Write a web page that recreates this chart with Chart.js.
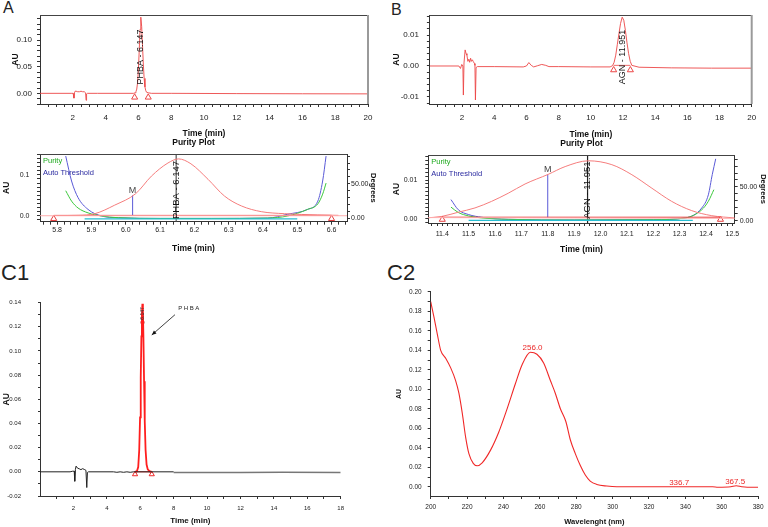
<!DOCTYPE html>
<html>
<head>
<meta charset="utf-8">
<script src="https://cdn.jsdelivr.net/npm/chart.js@4.4.1/dist/chart.umd.min.js"></script>
<style>
body { margin:0; background:#fff; width:768px; height:527px; overflow:hidden; position:relative; }
canvas { position:absolute; }
.panel { position:absolute; line-height:1; color:#222; font-family:'Liberation Sans', Arial, sans-serif; }
</style>
</head>
<body>
<div class="panel" style="left:3px;top:0px;font-size:16px">A</div>
<div class="panel" style="left:391px;top:2px;font-size:16px">B</div>
<div class="panel" style="left:1px;top:262px;font-size:22px">C1</div>
<div class="panel" style="left:387px;top:262px;font-size:22px">C2</div>

<canvas id="chromA" width="384" height="140" style="left:0;top:0"></canvas>
<canvas id="chromB" width="384" height="140" style="left:384px;top:0"></canvas>
<canvas id="purityA" width="384" height="120" style="left:0;top:138px"></canvas>
<canvas id="purityB" width="384" height="120" style="left:384px;top:138px"></canvas>
<canvas id="chromC1" width="384" height="245" style="left:0;top:282px"></canvas>
<canvas id="specC2" width="384" height="245" style="left:384px;top:282px"></canvas>

<script>
// ---- A : PHBA chromatogram ----
let chromA_time = [0, 1.9, 2.02, 2.07, 2.1, 2.14, 2.2, 2.3, 2.4, 2.5, 2.6, 2.7, 2.78, 2.81, 2.84, 2.9, 3.5, 5.0, 5.7, 5.8, 5.85, 5.9, 5.95, 6.0, 6.05, 6.1, 6.147, 6.2, 6.25, 6.3, 6.35, 6.4, 6.45, 6.5, 6.6, 6.8, 8, 12, 16, 20];
let chromA_au = [0, 0, 0, -0.009, 0.001, 0.004, 0.004, 0.003, 0.003, 0.004, 0.003, 0.003, 0.001, -0.013, -0.001, 0, 0, 0, 0, 0.001, 0.003, 0.008, 0.02, 0.045, 0.08, 0.12, 0.143, 0.125, 0.09, 0.055, 0.028, 0.012, 0.005, 0.002, 0.001, 0, 0, -0.0005, -0.0008, -0.001];
let chromA_markTime = [5.77, 6.6];
let chromA_markAu = [-0.0075, -0.0075];

// ---- B : AGN chromatogram ----
let chromB_time = [0, 1.8, 1.9, 1.98, 2.05, 2.08, 2.12, 2.19, 2.25, 2.3, 2.36, 2.42, 2.47, 2.53, 2.58, 2.64, 2.7, 2.77, 2.8, 2.83, 2.87, 2.95, 4, 5.8, 6.0, 6.15, 6.3, 6.45, 6.7, 6.95, 7.2, 7.4, 8, 10, 11.2, 11.35, 11.45, 11.55, 11.65, 11.75, 11.85, 11.951, 12.05, 12.15, 12.25, 12.35, 12.45, 12.55, 13, 15, 17.5, 20];
let chromB_au = [0, 0, -0.0008, 0.0005, 0.0, -0.0094, 0.001, 0.0052, 0.004, 0.0035, 0.0015, 0.0022, 0.0012, 0.0025, 0.0015, 0.002, 0.0014, 0.0008, 0.0002, -0.011, -0.0005, -0.0002, -0.0002, -0.0003, 0.0, 0.0011, 0.0002, -0.0003, 0.0001, 0.0005, 0.0002, -0.0002, -0.0002, -0.0003, -0.0003, 0.0001, 0.0012, 0.0035, 0.007, 0.0105, 0.0138, 0.0158, 0.0148, 0.0115, 0.0075, 0.004, 0.0015, 0.0002, -0.0004, -0.0006, -0.0007, -0.0007];
let chromB_markTime = [11.42, 12.46];
let chromB_markAu = [-0.0013, -0.0013];

// ---- A : purity plot ----
let purA_time = [5.8, 5.861, 5.91, 5.968, 6.029, 6.075, 6.123, 6.154, 6.19, 6.24, 6.288, 6.337, 6.395, 6.463, 6.56, 6.62];
let purA_au = [0.0005, 0.001, 0.005, 0.026, 0.054, 0.097, 0.129, 0.139, 0.127, 0.089, 0.048, 0.024, 0.01, 0.005, 0.002, 0.001];
let purA_curveTime = [5.825, 5.842, 5.861, 5.89, 5.929, 5.978, 6.1, 6.25, 6.414, 6.472, 6.53, 6.56, 6.574, 6.584];
let purA_threshold = [90, 54, 30, 13, 3.5, 1, 0, 0, 0.5, 6, 13, 25, 54, 90];
let purA_angle = [40, 25, 15, 8, 3.5, 1, 0, 0, 0.5, 3.5, 13, 21, 35, 51];
let purA_markTime = [5.79, 6.6];
let purA_markAu = [-0.0073, -0.0073];

// ---- B : purity plot ----
let purB_time = [11.333, 11.398, 11.461, 11.524, 11.587, 11.65, 11.714, 11.802, 11.866, 11.954, 12.043, 12.119, 12.195, 12.27, 12.346, 12.422, 12.509];
let purB_au = [0.0002, 0.0006, 0.0017, 0.0028, 0.0045, 0.0066, 0.009, 0.0115, 0.0135, 0.015, 0.014, 0.0114, 0.0079, 0.0045, 0.0021, 0.0008, 0.0002];
let purB_threshTime = [11.433, 11.461, 11.5, 11.55, 11.65, 11.9, 12.2, 12.321, 12.384, 12.409, 12.424, 12.437];
let purB_threshold = [31, 16, 9, 5, 2, 1, 1.5, 4, 18.7, 38, 68, 91];
let purB_angleTime = [11.433, 11.461, 11.5, 11.55, 11.65, 11.9, 12.2, 12.321, 12.384, 12.409, 12.43];
let purB_angle = [20, 12, 7, 4, 2, 1, 1.5, 4, 16, 28.5, 45.6];
let purB_markTime = [11.4, 12.455];
let purB_markAu = [-0.0002, -0.0002];

// ---- C1 : PHBA chromatogram ----
let c1_time = [0, 1.8, 1.95, 2.05, 2.08, 2.12, 2.16, 2.25, 2.35, 2.45, 2.55, 2.65, 2.75, 2.8, 2.84, 2.9, 4.4, 4.6, 4.8, 5.0, 5.2, 5.4, 5.6, 8];
let c1_au = [0, 0, 0.0005, 0.0005, -0.0078, 0.002, 0.0047, 0.003, 0.0025, 0.0018, 0.0026, 0.002, 0.0012, -0.013, -0.0005, 0, 0, -0.0004, 0, -0.0004, 0, -0.0004, 0, 0];
let c1_tailTime = [8, 12, 14.5, 18];
let c1_tailAu = [-0.0005, -0.0005, -0.0004, -0.0005];
let c1_peakTime = [5.69, 5.8, 5.88, 5.94, 5.99, 6.03, 6.07, 6.1, 6.13, 6.16, 6.19, 6.23, 6.27, 6.32, 6.38, 6.45, 6.55, 6.69];
let c1_peakAu = [0, 0.0005, 0.004, 0.018, 0.045, 0.078, 0.112, 0.13, 0.139, 0.133, 0.112, 0.075, 0.042, 0.018, 0.006, 0.002, 0.0005, 0];
let c1_markTime = [5.69, 6.69];
let c1_markAu = [-0.002, -0.002];

// ---- C2 : UV spectrum ----
let c2_wave = [200, 201.8, 203.6, 205.5, 208.2, 211, 213.7, 215.5, 217.4, 219.2, 221, 223.4, 225.5, 228.3, 232.9, 237.4, 242, 246.6, 250.2, 254.8, 258.4, 262.1, 265.8, 268.5, 271.3, 274.3, 276.8, 279.5, 282.2, 285, 287.7, 291.3, 296.8, 302.3, 320, 340, 355, 358, 365, 368, 371, 374, 380];
let c2_au = [0.19, 0.174, 0.157, 0.140, 0.132, 0.122, 0.109, 0.096, 0.075, 0.051, 0.034, 0.024, 0.0215, 0.0246, 0.0376, 0.056, 0.080, 0.106, 0.125, 0.138, 0.136, 0.127, 0.109, 0.096, 0.080, 0.067, 0.048, 0.034, 0.022, 0.012, 0.0058, 0.0024, 0.0007, 0.0, 0.0, 0.0, 0.0, -0.0005, 0.0, 0.001, 0.0, -0.0005, -0.0005];

const FONT = 'Liberation Sans';
const TRACE = 'rgb(236,70,70)';
Chart.defaults.font.family = FONT;

const pts = (xs, ys) => xs.map((x, i) => ({x: x, y: ys[i]}));
function steps(from, to, step) {
    let out = [];
    for (let i = 0; from + i * step <= to + 1e-9; i++) out.push(+(from + i * step).toFixed(5));
    return out;
}
const onStep = (v, major) => Math.abs(v / major - Math.round(v / major)) < 1e-6;

function axis(o) {
    return {
        type: 'linear', position: o.pos, min: o.min, max: o.max,
        afterBuildTicks: s => { s.ticks = steps(o.from, o.to, o.minor).map(v => ({value: v})); },
        afterFit: s => { if (o.pos === 'left' || o.pos === 'right') s.width = o.size; else s.height = o.size; },
        grid: {drawOnChartArea: false, drawTicks: true, tickLength: o.tick || 3, color: '#333'},
        border: {display: true, color: '#333', width: 1},
        ticks: {
            autoSkip: false, maxRotation: 0, padding: o.pad, color: '#222',
            font: {family: FONT, size: o.fs || 8},
            callback: v => onStep(v, o.major) ? o.fmt(v) : ''
        },
        title: {display: !!o.title, text: o.title, color: '#111', font: {family: FONT, size: o.tfs || 8.5, weight: 'bold'}, padding: o.tpad || 0}
    };
}

// draws frame, headings, key text, arrows and peak labels
const extras = {
    id: 'extras',
    afterDatasetsDraw(chart, args, o) {
        const ctx = chart.ctx, a = chart.chartArea, sx = chart.scales.x;
        ctx.save();
        if (o.frame) {
            ctx.strokeStyle = '#444'; ctx.lineWidth = 1;
            ctx.beginPath(); ctx.moveTo(a.left, a.top + 0.5); ctx.lineTo(a.right, a.top + 0.5); ctx.stroke();
            if (o.frame === 'full') {
                ctx.strokeStyle = '#9a9a9a'; ctx.lineWidth = 2;
                ctx.beginPath(); ctx.moveTo(a.right, a.top); ctx.lineTo(a.right, a.bottom); ctx.stroke();
            }
        }
        if (o.heading) {
            ctx.font = 'bold 8.5px ' + FONT; ctx.fillStyle = '#111';
            ctx.textAlign = 'center'; ctx.textBaseline = 'middle';
            ctx.fillText(o.heading, (a.left + a.right) / 2, a.top - 11);
        }
        (o.keys || []).forEach((k, i) => {
            ctx.font = '7.5px ' + FONT; ctx.fillStyle = k.color;
            ctx.textAlign = 'left'; ctx.textBaseline = 'middle';
            ctx.fillText(k.text, a.left + 3, a.top + 7 + i * 11.5);
        });
        (o.arrows || []).forEach(ar => {
            const x1 = sx.getPixelForValue(ar.x1), y1 = chart.scales.y.getPixelForValue(ar.y1);
            const x2 = sx.getPixelForValue(ar.x2), y2 = chart.scales.y.getPixelForValue(ar.y2);
            const ang = Math.atan2(y2 - y1, x2 - x1);
            ctx.strokeStyle = '#111'; ctx.fillStyle = '#111'; ctx.lineWidth = 0.8;
            ctx.beginPath(); ctx.moveTo(x1, y1); ctx.lineTo(x2, y2); ctx.stroke();
            ctx.beginPath(); ctx.moveTo(x2, y2);
            ctx.lineTo(x2 - 5 * Math.cos(ang - 0.4), y2 - 5 * Math.sin(ang - 0.4));
            ctx.lineTo(x2 - 5 * Math.cos(ang + 0.4), y2 - 5 * Math.sin(ang + 0.4));
            ctx.closePath(); ctx.fill();
        });
        (o.notes || []).forEach(n => {
            const x = sx.getPixelForValue(n.x), y = chart.scales[n.axis || 'y'].getPixelForValue(n.y);
            ctx.save();
            ctx.translate(x, y); ctx.rotate(n.rot || 0);
            ctx.font = n.font; ctx.fillStyle = n.color || '#111';
            ctx.textAlign = 'center'; ctx.textBaseline = 'middle';
            if (n.spacing) ctx.letterSpacing = n.spacing;
            ctx.fillText(n.text, 0, 0);
            ctx.restore();
        });
        ctx.restore();
    }
};
Chart.register(extras);

const base = (padding, extra) => ({
    responsive: false, animation: false, events: [],
    layout: {padding: padding},
    plugins: {legend: {display: false}, tooltip: {enabled: false}, extras: extra}
});
const line = (data, color, width, more) => Object.assign({data: data, showLine: true, borderColor: color, borderWidth: width, pointRadius: 0}, more || {});
const marks = (data, color, r) => ({data: data, showLine: false, pointStyle: 'triangle', pointRadius: r, borderColor: color, backgroundColor: 'rgba(255,255,255,0)', borderWidth: 1, clip: 5});
const UP = -Math.PI / 2;

// ---------- A chromatogram ----------
let optA = base({left: 0, right: 16, top: 15, bottom: 0}, {
    frame: 'full',
    notes: [{text: 'PHBA - 6.147', x: 6.147, y: 0.068, rot: UP, font: '9px ' + FONT}]
});
optA.scales = {
    x: axis({pos: 'bottom', min: 0, max: 20, from: 0.5, to: 20, minor: 0.5, major: 2, fmt: v => v.toFixed(0), size: 36, pad: 6, fs: 8, title: 'Time (min)', tpad: 1.1}),
    y: axis({pos: 'left', min: -0.02, max: 0.147, from: -0.02, to: 0.14, minor: 0.01, major: 0.05, fmt: v => v.toFixed(2), size: 40, pad: 5, fs: 8, title: 'AU', tpad: 10.4})
};
new Chart(document.getElementById('chromA'), {
    type: 'scatter',
    data: {datasets: [
        line(pts(chromA_time, chromA_au), TRACE, 0.9),
        marks(pts(chromA_markTime, chromA_markAu), TRACE, 3.5)
    ]},
    options: optA
});

// ---------- B chromatogram ----------
let optB = base({left: 0, right: 16.3, top: 15, bottom: 0}, {
    frame: 'full',
    notes: [{text: 'AGN - 11.951', x: 11.951, y: 0.0029, rot: UP, font: '9px ' + FONT}]
});
optB.scales = {
    x: axis({pos: 'bottom', min: 0, max: 20, from: 0.5, to: 20, minor: 0.5, major: 2, fmt: v => v.toFixed(0), size: 36, pad: 6, fs: 8, title: 'Time (min)', tpad: 0.4}),
    y: axis({pos: 'left', min: -0.0123, max: 0.0165, from: -0.012, to: 0.016, minor: 0.002, major: 0.01, fmt: v => v.toFixed(2), size: 45.9, pad: 8, fs: 8, title: 'AU', tpad: 7.7})
};
new Chart(document.getElementById('chromB'), {
    type: 'scatter',
    data: {datasets: [
        line(pts(chromB_time, chromB_au), TRACE, 0.9),
        line(pts(chromB_markTime, [0.0002, 0.0002]), TRACE, 0.8),
        marks(pts(chromB_markTime, chromB_markAu), TRACE, 3.5)
    ]},
    options: optB
});

// ---------- purity plots ----------
const PINK = 'rgb(255,175,175)', RED = 'rgb(245,125,125)', BLUE = 'rgb(90,90,215)', GREEN = 'rgb(60,200,60)', CYAN = 'rgb(40,190,210)';
const keys = [{text: 'Purity', color: '#1faa1f'}, {text: 'Auto Threshold', color: '#2a2aa0'}];

let optPA = base({left: 0, right: 0, top: 16, bottom: 0}, {
    frame: 'top', heading: 'Purity Plot', keys: keys,
    notes: [
        {text: 'PHBA - 6.147', x: 6.147, y: 0.063, rot: UP, font: '9.5px ' + FONT},
        {text: 'M', x: 6.02, y: 0.062, font: '9px ' + FONT, color: '#444'}
    ]
});
optPA.scales = {
    x: axis({pos: 'bottom', min: 5.75, max: 6.645, from: 5.76, to: 6.64, minor: 0.02, major: 0.1, fmt: v => v.toFixed(1), size: 36.3, pad: 1, fs: 7, title: 'Time (min)', tpad: 3.9}),
    y: axis({pos: 'left', min: -0.0146, max: 0.151, from: -0.01, to: 0.15, minor: 0.01, major: 0.1, fmt: v => v.toFixed(1), size: 40, pad: 7.5, fs: 7, title: 'AU', tpad: 1.1}),
    y1: axis({pos: 'right', min: -4.75, max: 93, from: 0, to: 90, minor: 10, major: 50, fmt: v => v.toFixed(2), size: 37, pad: 1, fs: 7, title: 'Degrees', tfs: 7.5, tpad: 6.2})
};
new Chart(document.getElementById('purityA'), {
    type: 'scatter',
    data: {datasets: [
        line(pts([5.75, 6.645], [0, 0]), PINK, 1),
        line(pts(purA_markTime, [0.0008, 0.0008]), 'rgb(230,50,50)', 1),
        line(pts(purA_time, purA_au), RED, 1, {cubicInterpolationMode: 'monotone'}),
        line(pts([5.88, 6.5], [-0.6, -0.6]), CYAN, 1.2, {yAxisID: 'y1'}),
        line(pts(purA_curveTime, purA_angle), GREEN, 1, {yAxisID: 'y1', cubicInterpolationMode: 'monotone'}),
        line(pts(purA_curveTime, purA_threshold), BLUE, 1, {yAxisID: 'y1', cubicInterpolationMode: 'monotone'}),
        line(pts([6.02, 6.02], [0, 0.05]), BLUE, 1),
        line(pts([6.147, 6.147], [-0.0146, 0.151]), '#555', 1.2),
        marks(pts(purA_markTime, purA_markAu), 'rgb(230,60,60)', 3.5)
    ]},
    options: optPA
});

let optPB = base({left: 0, right: 0, top: 17, bottom: 0}, {
    frame: 'top', heading: 'Purity Plot', keys: keys,
    notes: [
        {text: 'AGN - 11.951', x: 11.951, y: 0.0074, rot: UP, font: '9.5px ' + FONT},
        {text: 'M', x: 11.8, y: 0.0128, font: '9px ' + FONT, color: '#444'}
    ]
});
optPB.scales = {
    x: axis({pos: 'bottom', min: 11.347, max: 12.509, from: 11.36, to: 12.5, minor: 0.02, major: 0.1, fmt: v => v.toFixed(1), size: 35, pad: 3.5, fs: 7, title: 'Time (min)', tpad: 3.7}),
    y: axis({pos: 'left', min: -0.0011, max: 0.0165, from: -0.001, to: 0.016, minor: 0.001, major: 0.01, fmt: v => v.toFixed(2), size: 44.3, pad: 8, fs: 7, title: 'AU', tpad: 7.7}),
    y1: axis({pos: 'right', min: -3.4, max: 96.6, from: 0, to: 90, minor: 10, major: 50, fmt: v => v.toFixed(2), size: 33.3, pad: 2, fs: 7, title: 'Degrees', tfs: 7.5, tpad: 0.2})
};
new Chart(document.getElementById('purityB'), {
    type: 'scatter',
    data: {datasets: [
        line(pts([11.347, 12.509], [0.0003, 0.0001]), PINK, 1),
        line(pts(purB_markTime, [0.0004, 0.0004]), 'rgb(230,50,50)', 1),
        line(pts(purB_time, purB_au), RED, 1, {cubicInterpolationMode: 'monotone'}),
        line(pts([11.5, 12.35], [0.5, 0.5]), CYAN, 1.2, {yAxisID: 'y1'}),
        line(pts(purB_angleTime, purB_angle), GREEN, 1, {yAxisID: 'y1', cubicInterpolationMode: 'monotone'}),
        line(pts(purB_threshTime, purB_threshold), BLUE, 1, {yAxisID: 'y1', cubicInterpolationMode: 'monotone'}),
        line(pts([11.8, 11.8], [0.0002, 0.0115]), BLUE, 1),
        line(pts([11.951, 11.951], [-0.0011, 0.0165]), '#222', 1.2),
        marks(pts(purB_markTime, purB_markAu), 'rgb(230,60,60)', 3.5)
    ]},
    options: optPB
});

// ---------- C1 chromatogram ----------
let optC1 = base({left: 0, right: 43.3, top: 8.7, bottom: 0}, {
    notes: [
        {text: 'PHBA', x: 8.95, y: 0.1353, font: '6px ' + FONT, color: '#222', spacing: '1.5px'},
        {text: '6.147', x: 6.135, y: 0.131, rot: UP, font: '5px ' + FONT, color: '#333'}
    ],
    arrows: [{x1: 8.08, y1: 0.130, x2: 6.69, y2: 0.1132}]
});
optC1.scales = {
    x: axis({pos: 'bottom', min: 0, max: 18, from: 1, to: 18, minor: 1, major: 2, fmt: v => v.toFixed(0), size: 31, pad: 5.4, fs: 6, title: 'Time (min)', tfs: 8, tpad: 1}),
    y: axis({pos: 'left', min: -0.02, max: 0.14, from: -0.02, to: 0.14, minor: 0.01, major: 0.02, fmt: v => v.toFixed(2), size: 40, pad: 17, tick: 2, fs: 6, title: 'AU', tpad: 1.1})
};
new Chart(document.getElementById('chromC1'), {
    type: 'scatter',
    data: {datasets: [
        line(pts(c1_time, c1_au), '#222', 1),
        line(pts(c1_tailTime, c1_tailAu), '#777', 1.6),
        line(pts(c1_markTime, [0, 0]), 'rgb(240,40,40)', 1),
        line(pts(c1_peakTime, c1_peakAu), 'rgb(255,30,30)', 1.8),
        marks(pts(c1_markTime, c1_markAu), 'rgb(240,40,40)', 3),
        {data: pts([6.135], [0.1236]), showLine: false, pointStyle: 'circle', pointRadius: 1.8, borderColor: '#c33', backgroundColor: 'rgba(255,255,255,0)', borderWidth: 0.8}
    ]},
    options: optC1
});

// ---------- C2 UV spectrum ----------
let optC2 = base({left: 0, right: 9, top: 9.7, bottom: 0}, {
    notes: [
        {text: '256.0', x: 256, y: 0.1426, font: '8px ' + FONT, color: 'rgb(235,40,40)'},
        {text: '336.7', x: 336.6, y: 0.0045, font: '8px ' + FONT, color: 'rgb(235,40,40)'},
        {text: '367.5', x: 367.4, y: 0.0048, font: '8px ' + FONT, color: 'rgb(235,40,40)'}
    ]
});
optC2.scales = {
    x: axis({pos: 'bottom', min: 200, max: 380, from: 200, to: 380, minor: 10, major: 20, fmt: v => v.toFixed(0), size: 31, pad: 4.5, fs: 6.5, title: 'Wavelenght (nm)', tfs: 7.5, tpad: 1}),
    y: axis({pos: 'left', min: -0.0095, max: 0.2, from: 0, to: 0.2, minor: 0.01, major: 0.02, fmt: v => v.toFixed(2), size: 46.7, pad: 6, fs: 6.5, title: 'AU', tfs: 7, tpad: 10.5})
};
new Chart(document.getElementById('specC2'), {
    type: 'scatter',
    data: {datasets: [
        line(pts(c2_wave, c2_au), 'rgb(240,40,40)', 1.1, {cubicInterpolationMode: 'monotone'})
    ]},
    options: optC2
});
</script>
</body>
</html>
